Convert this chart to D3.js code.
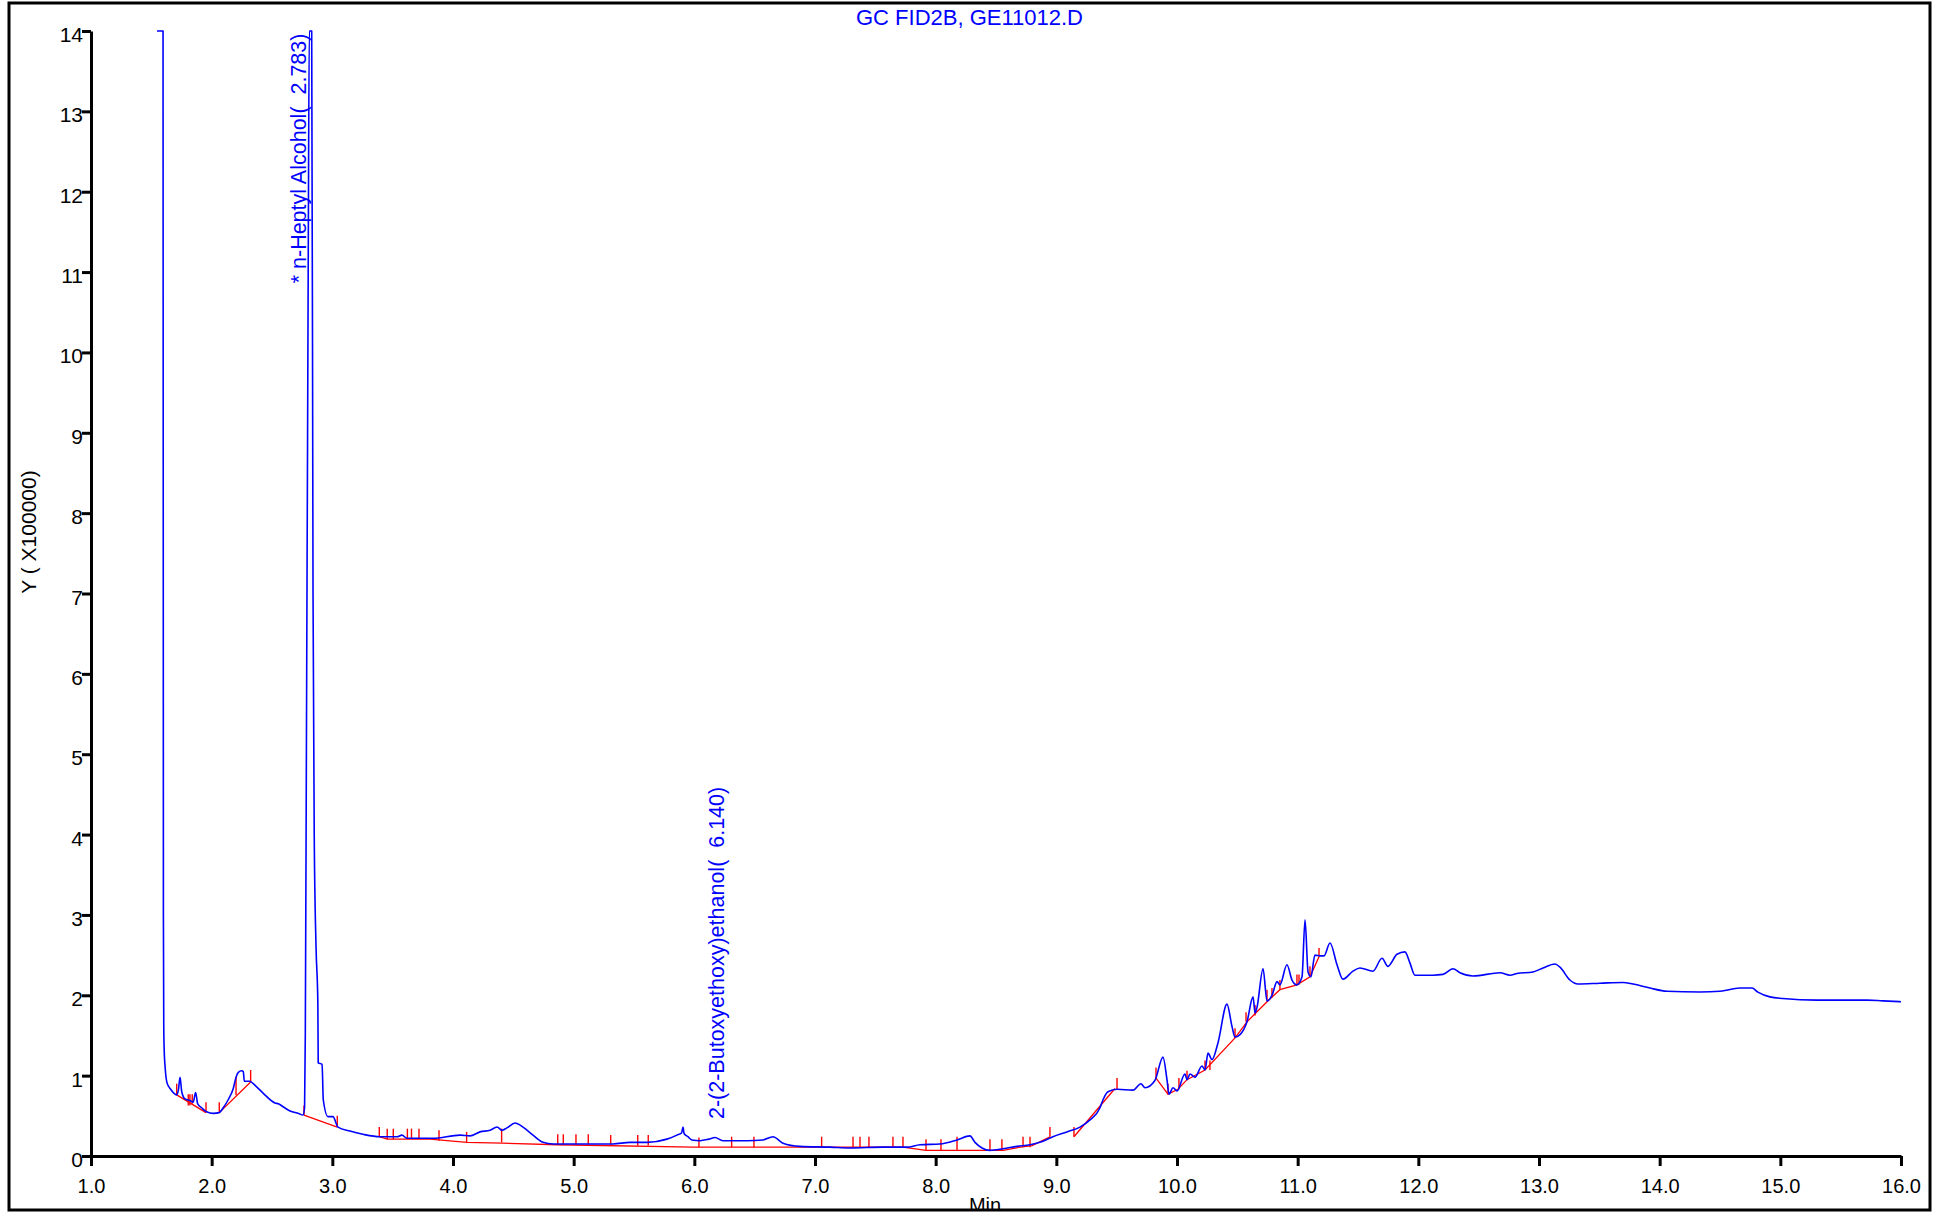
<!DOCTYPE html>
<html>
<head>
<meta charset="utf-8">
<title>GC FID2B, GE11012.D</title>
<script src="https://cdn.jsdelivr.net/npm/d3@7"></script>
<style>
    html, body { margin: 0; padding: 0; background: #fff; }
    #chart { width: 1956px; height: 1212px; }
</style>
</head>
<body>
<div id="chart"></div>
<script>
// texts
const chartTitle = 'GC FID2B, GE11012.D';
const xTitle = 'Min';
const yTitle = 'Y ( X100000)';

// axis ticks
const xTicks = [1, 2, 3, 4, 5, 6, 7, 8, 9, 10, 11, 12, 13, 14, 15, 16];
const yTicks = [0, 1, 2, 3, 4, 5, 6, 7, 8, 9, 10, 11, 12, 13, 14];

// detector signal (min, x100000), clipped at 14 like the print
const traceTime = [
    1.547, 1.597, 1.600, 1.603, 1.607, 1.614, 1.630, 1.660, 1.696, 1.710,
    1.724, 1.738, 1.752, 1.779, 1.820, 1.847, 1.867, 1.884, 1.917, 1.958,
    2.014, 2.063, 2.096, 2.137, 2.179, 2.202, 2.221, 2.249, 2.262, 2.271,
    2.312, 2.373, 2.428, 2.525, 2.553, 2.595, 2.650, 2.720, 2.757, 2.770,
    2.776, 2.785, 2.800, 2.809, 2.829, 2.840, 2.850, 2.865, 2.880, 2.883,
    2.915, 2.925, 2.964, 3.005, 3.047, 3.146, 3.254, 3.395, 3.536, 3.577,
    3.619, 3.809, 3.834, 4.058, 4.141, 4.224, 4.307, 4.365, 4.406, 4.447,
    4.514, 4.580, 4.663, 4.746, 4.829, 5.052, 5.326, 5.467, 5.608, 5.773,
    5.856, 5.895, 5.906, 5.915, 5.947, 5.980, 6.047, 6.120, 6.171, 6.237,
    6.436, 6.569, 6.652, 6.735, 6.875, 7.124, 7.290, 7.563, 7.762, 7.870,
    8.036, 8.177, 8.284, 8.326, 8.384, 8.450, 8.558, 8.674, 8.782, 8.864,
    8.972, 9.088, 9.196, 9.279, 9.362, 9.387, 9.428, 9.503, 9.635, 9.701,
    9.735, 9.817, 9.884, 9.917, 9.934, 9.967, 10.000, 10.066, 10.083, 10.108,
    10.149, 10.207, 10.232, 10.257, 10.290, 10.340, 10.414, 10.456, 10.481, 10.522,
    10.580, 10.630, 10.647, 10.663, 10.713, 10.746, 10.787, 10.829, 10.853, 10.911,
    10.953, 10.994, 11.036, 11.061, 11.086, 11.110, 11.143, 11.185, 11.218, 11.268,
    11.326, 11.375, 11.458, 11.516, 11.624, 11.699, 11.748, 11.823, 11.889, 11.931,
    11.972, 12.121, 12.204, 12.287, 12.345, 12.453, 12.677, 12.760, 12.817, 12.950,
    13.033, 13.132, 13.174, 13.256, 13.322, 13.505, 13.696, 13.779, 13.920, 14.060,
    14.334, 14.500, 14.665, 14.765, 14.814, 14.914, 15.021, 15.303, 15.718, 15.851,
    16.000
];
const traceSignal = [
    14, 14, 3.0, 1.6, 1.3, 1.11, 0.91, 0.83, 0.77, 0.76,
    0.82, 0.98, 0.80, 0.71, 0.69, 0.67, 0.79, 0.65, 0.60, 0.55,
    0.53, 0.54, 0.60, 0.70, 0.84, 0.98, 1.04, 1.06, 1.05, 0.93,
    0.93, 0.86, 0.78, 0.66, 0.65, 0.61, 0.56, 0.53, 0.51, 0.60,
    1.5, 5.0, 11.0, 14, 14, 7.0, 4.0, 2.6, 1.9, 1.16,
    1.14, 0.70, 0.49, 0.49, 0.36, 0.31, 0.27, 0.24, 0.24, 0.26,
    0.22, 0.22, 0.22, 0.26, 0.25, 0.30, 0.32, 0.36, 0.32, 0.35,
    0.41, 0.36, 0.26, 0.17, 0.15, 0.15, 0.15, 0.17, 0.17, 0.21,
    0.26, 0.29, 0.36, 0.28, 0.24, 0.20, 0.19, 0.21, 0.23, 0.19,
    0.19, 0.20, 0.24, 0.16, 0.12, 0.11, 0.10, 0.11, 0.11, 0.14,
    0.15, 0.20, 0.25, 0.17, 0.10, 0.07, 0.09, 0.12, 0.14, 0.17,
    0.24, 0.30, 0.36, 0.45, 0.60, 0.70, 0.80, 0.83, 0.82, 0.90,
    0.85, 0.94, 1.23, 0.95, 0.77, 0.85, 0.81, 1.02, 0.95, 1.02,
    0.98, 1.12, 1.07, 1.28, 1.20, 1.41, 1.89, 1.61, 1.48, 1.51,
    1.67, 1.98, 1.78, 1.85, 2.33, 1.93, 2.00, 2.17, 2.13, 2.38,
    2.19, 2.13, 2.23, 2.94, 2.29, 2.23, 2.50, 2.49, 2.49, 2.65,
    2.38, 2.20, 2.30, 2.34, 2.30, 2.46, 2.36, 2.51, 2.54, 2.40,
    2.25, 2.25, 2.26, 2.33, 2.28, 2.24, 2.28, 2.25, 2.27, 2.29,
    2.34, 2.39, 2.35, 2.19, 2.14, 2.15, 2.16, 2.14, 2.09, 2.05,
    2.04, 2.05, 2.09, 2.09, 2.04, 1.98, 1.96, 1.94, 1.94, 1.93,
    1.92
];

// integration baselines, null = gap between segments
const baselineTime = [
    1.710, 1.953, null,
    2.063, 2.323, null,
    2.765, 3.041, null,
    3.389, 3.455, 3.809, 4.116, 4.406, 4.862, 5.989, 7.729, 7.920, 8.558, 8.700, 8.800, 8.947, null,
    9.146, 9.486, null,
    9.826, 9.925, 10.008, 10.083, 10.232, 10.481, 10.580, 10.746, 10.853, 10.994, 11.102, 11.177
];
const baselineSignal = [
    0.76, 0.54, null,
    0.54, 0.92, null,
    0.51, 0.36, null,
    0.24, 0.21, 0.21, 0.17, 0.16, 0.14, 0.11, 0.11, 0.07, 0.07, 0.11, 0.13, 0.24, null,
    0.24, 0.84, null,
    0.97, 0.77, 0.83, 0.95, 1.07, 1.47, 1.67, 1.92, 2.07, 2.13, 2.23, 2.48
];

// peak start / stop marks
const markTime = [
    1.710, 1.806, 1.820, 1.839, 1.953, 2.063, 2.202, 2.323, 2.765, 3.041,
    3.389, 3.455, 3.505, 3.622, 3.656, 3.718, 3.884, 4.113, 4.403, 4.868,
    4.914, 5.019, 5.121, 5.307, 5.531, 5.618, 6.038, 6.309, 6.494, 7.055,
    7.315, 7.373, 7.447, 7.646, 7.729, 7.920, 8.044, 8.177, 8.450, 8.549,
    8.724, 8.782, 8.947, 9.146, 9.503, 9.826, 9.925, 10.016, 10.083, 10.232,
    10.273, 10.481, 10.572, 10.647, 10.746, 10.787, 10.853, 10.994, 11.011, 11.102,
    11.177
];
const markLow = [
    0.76, 0.63, 0.63, 0.65, 0.54, 0.54, 0.76, 0.92, 0.51, 0.36,
    0.24, 0.21, 0.21, 0.21, 0.21, 0.21, 0.19, 0.17, 0.17, 0.15,
    0.15, 0.14, 0.14, 0.14, 0.13, 0.13, 0.11, 0.11, 0.11, 0.11,
    0.11, 0.11, 0.11, 0.11, 0.11, 0.07, 0.07, 0.07, 0.07, 0.07,
    0.11, 0.11, 0.24, 0.24, 0.83, 0.97, 0.77, 0.83, 0.95, 1.07,
    1.07, 1.47, 1.67, 1.75, 1.94, 1.97, 2.07, 2.13, 2.13, 2.23,
    2.48
];
const markHigh = [
    0.90, 0.77, 0.77, 0.77, 0.67, 0.67, 0.98, 1.07, 0.63, 0.50,
    0.36, 0.34, 0.34, 0.34, 0.34, 0.34, 0.32, 0.30, 0.34, 0.27,
    0.27, 0.27, 0.27, 0.26, 0.26, 0.26, 0.23, 0.24, 0.24, 0.24,
    0.24, 0.24, 0.24, 0.24, 0.24, 0.21, 0.21, 0.24, 0.21, 0.21,
    0.24, 0.24, 0.36, 0.36, 0.97, 1.10, 0.90, 0.97, 1.06, 1.19,
    1.19, 1.59, 1.79, 1.88, 2.07, 2.09, 2.19, 2.26, 2.26, 2.36,
    2.59
];

// compound labels
const peakNames = ['* n-Heptyl Alcohol(  2.783)', '2-(2-Butoxyethoxy)ethanol(  6.140)'];
const peakLabelTime = [2.778, 6.246];
const peakLabelSignal = [10.86, 0.46];

const Chromatogram = (function() {
    'use strict';

    const width = 1956;
    const height = 1212;

    // outer frame and plot box (px)
    const frame = { left: 9, top: 3, right: 1930, bottom: 1210 };
    const plot = { left: 91, right: 1901, top: 31, bottom: 1156 };

    const fontFamily = '"Liberation Sans", Arial, Helvetica, sans-serif';
    const blue = '#0000ff';
    const red = '#ff0000';

    let svg = null;
    let xScale = null;
    let yScale = null;

    function init(selector) {
        const container = document.querySelector(selector);
        if (!container) return;

        svg = d3.select(container)
            .append('svg')
            .attr('width', width)
            .attr('height', height)
            .style('display', 'block')
            .style('background', '#fff');

        createScales();
        drawAxes();
        drawBaselines();
        drawTrace();
        drawLabels();
        drawFrame();
    }

    function createScales() {
        xScale = d3.scaleLinear()
            .domain([xTicks[0], xTicks[xTicks.length - 1]])
            .range([plot.left, plot.right]);

        yScale = d3.scaleLinear()
            .domain([yTicks[0], yTicks[yTicks.length - 1]])
            .range([plot.bottom, plot.top]);
    }

    function styleAxis(g) {
        g.attr('font-family', fontFamily).attr('font-size', 20);
        g.select('.domain').attr('stroke', '#000').attr('stroke-width', 3);
        g.selectAll('.tick line').attr('stroke', '#000').attr('stroke-width', 3);
        g.selectAll('.tick text').attr('fill', '#000');
    }

    function drawAxes() {
        const gy = svg.append('g')
            .attr('transform', `translate(${plot.left},0)`)
            .call(d3.axisLeft(yScale)
                .tickValues(yTicks)
                .tickFormat(d3.format('d'))
                .tickSize(9)
                .tickSizeOuter(0)
                .tickPadding(-1));
        styleAxis(gy);
        gy.selectAll('.tick text').attr('dy', '0.5em').attr('font-size', 21);

        const gx = svg.append('g')
            .attr('transform', `translate(0,${plot.bottom})`)
            .call(d3.axisBottom(xScale)
                .tickValues(xTicks)
                .tickFormat(d3.format('.1f'))
                .tickSize(10)
                .tickSizeOuter(0)
                .tickPadding(13));
        styleAxis(gx);

        // y title
        svg.append('text')
            .attr('transform', `translate(36,532) rotate(-90)`)
            .attr('text-anchor', 'middle')
            .attr('font-family', fontFamily)
            .attr('font-size', 21)
            .attr('fill', '#000')
            .text(yTitle);

        // x title, cut by the frame like the print
        svg.append('clipPath')
            .attr('id', 'frame-clip')
            .append('rect')
            .attr('x', frame.left)
            .attr('y', frame.top)
            .attr('width', frame.right - frame.left)
            .attr('height', frame.bottom - frame.top);

        svg.append('text')
            .attr('clip-path', 'url(#frame-clip)')
            .attr('x', 985)
            .attr('y', 1212)
            .attr('text-anchor', 'middle')
            .attr('font-family', fontFamily)
            .attr('font-size', 20)
            .attr('fill', '#000')
            .text(xTitle);
    }

    function drawBaselines() {
        const pts = baselineTime.map((t, i) => [t, baselineSignal[i]]);

        const line = d3.line()
            .defined(d => d[0] !== null && d[1] !== null)
            .x(d => xScale(d[0]))
            .y(d => yScale(d[1]));

        svg.append('path')
            .datum(pts)
            .attr('fill', 'none')
            .attr('stroke', red)
            .attr('stroke-width', 1.3)
            .attr('d', line);

        svg.append('g')
            .selectAll('line')
            .data(markTime.map((t, i) => ({ t, lo: markLow[i], hi: markHigh[i] })))
            .join('line')
            .attr('x1', d => xScale(d.t))
            .attr('x2', d => xScale(d.t))
            .attr('y1', d => yScale(d.lo))
            .attr('y2', d => yScale(d.hi))
            .attr('stroke', red)
            .attr('stroke-width', 1.4);
    }

    function drawTrace() {
        const pts = traceTime.map((t, i) => [t, traceSignal[i]]);

        const line = d3.line()
            .x(d => xScale(d[0]))
            .y(d => yScale(d[1]))
            .curve(d3.curveMonotoneX);

        svg.append('path')
            .datum(pts)
            .attr('fill', 'none')
            .attr('stroke', blue)
            .attr('stroke-width', 1.6)
            .attr('stroke-linejoin', 'round')
            .attr('d', line);
    }

    function drawLabels() {
        svg.append('text')
            .attr('x', (frame.left + frame.right) / 2)
            .attr('y', 25)
            .attr('text-anchor', 'middle')
            .attr('font-family', fontFamily)
            .attr('font-size', 22)
            .attr('fill', blue)
            .text(chartTitle);

        svg.append('g')
            .selectAll('text')
            .data(peakNames)
            .join('text')
            .attr('transform', (d, i) =>
                `translate(${xScale(peakLabelTime[i])},${yScale(peakLabelSignal[i])}) rotate(-90)`)
            .attr('text-anchor', 'start')
            .attr('font-family', fontFamily)
            .attr('font-size', 21.5)
            .attr('fill', blue)
            .style('white-space', 'pre')
            .text(d => d);
    }

    function drawFrame() {
        svg.append('rect')
            .attr('x', frame.left)
            .attr('y', frame.top)
            .attr('width', frame.right - frame.left)
            .attr('height', frame.bottom - frame.top)
            .attr('fill', 'none')
            .attr('stroke', '#000')
            .attr('stroke-width', 3);
    }

    return { init };
})();

Chromatogram.init('#chart');
</script>
</body>
</html>
